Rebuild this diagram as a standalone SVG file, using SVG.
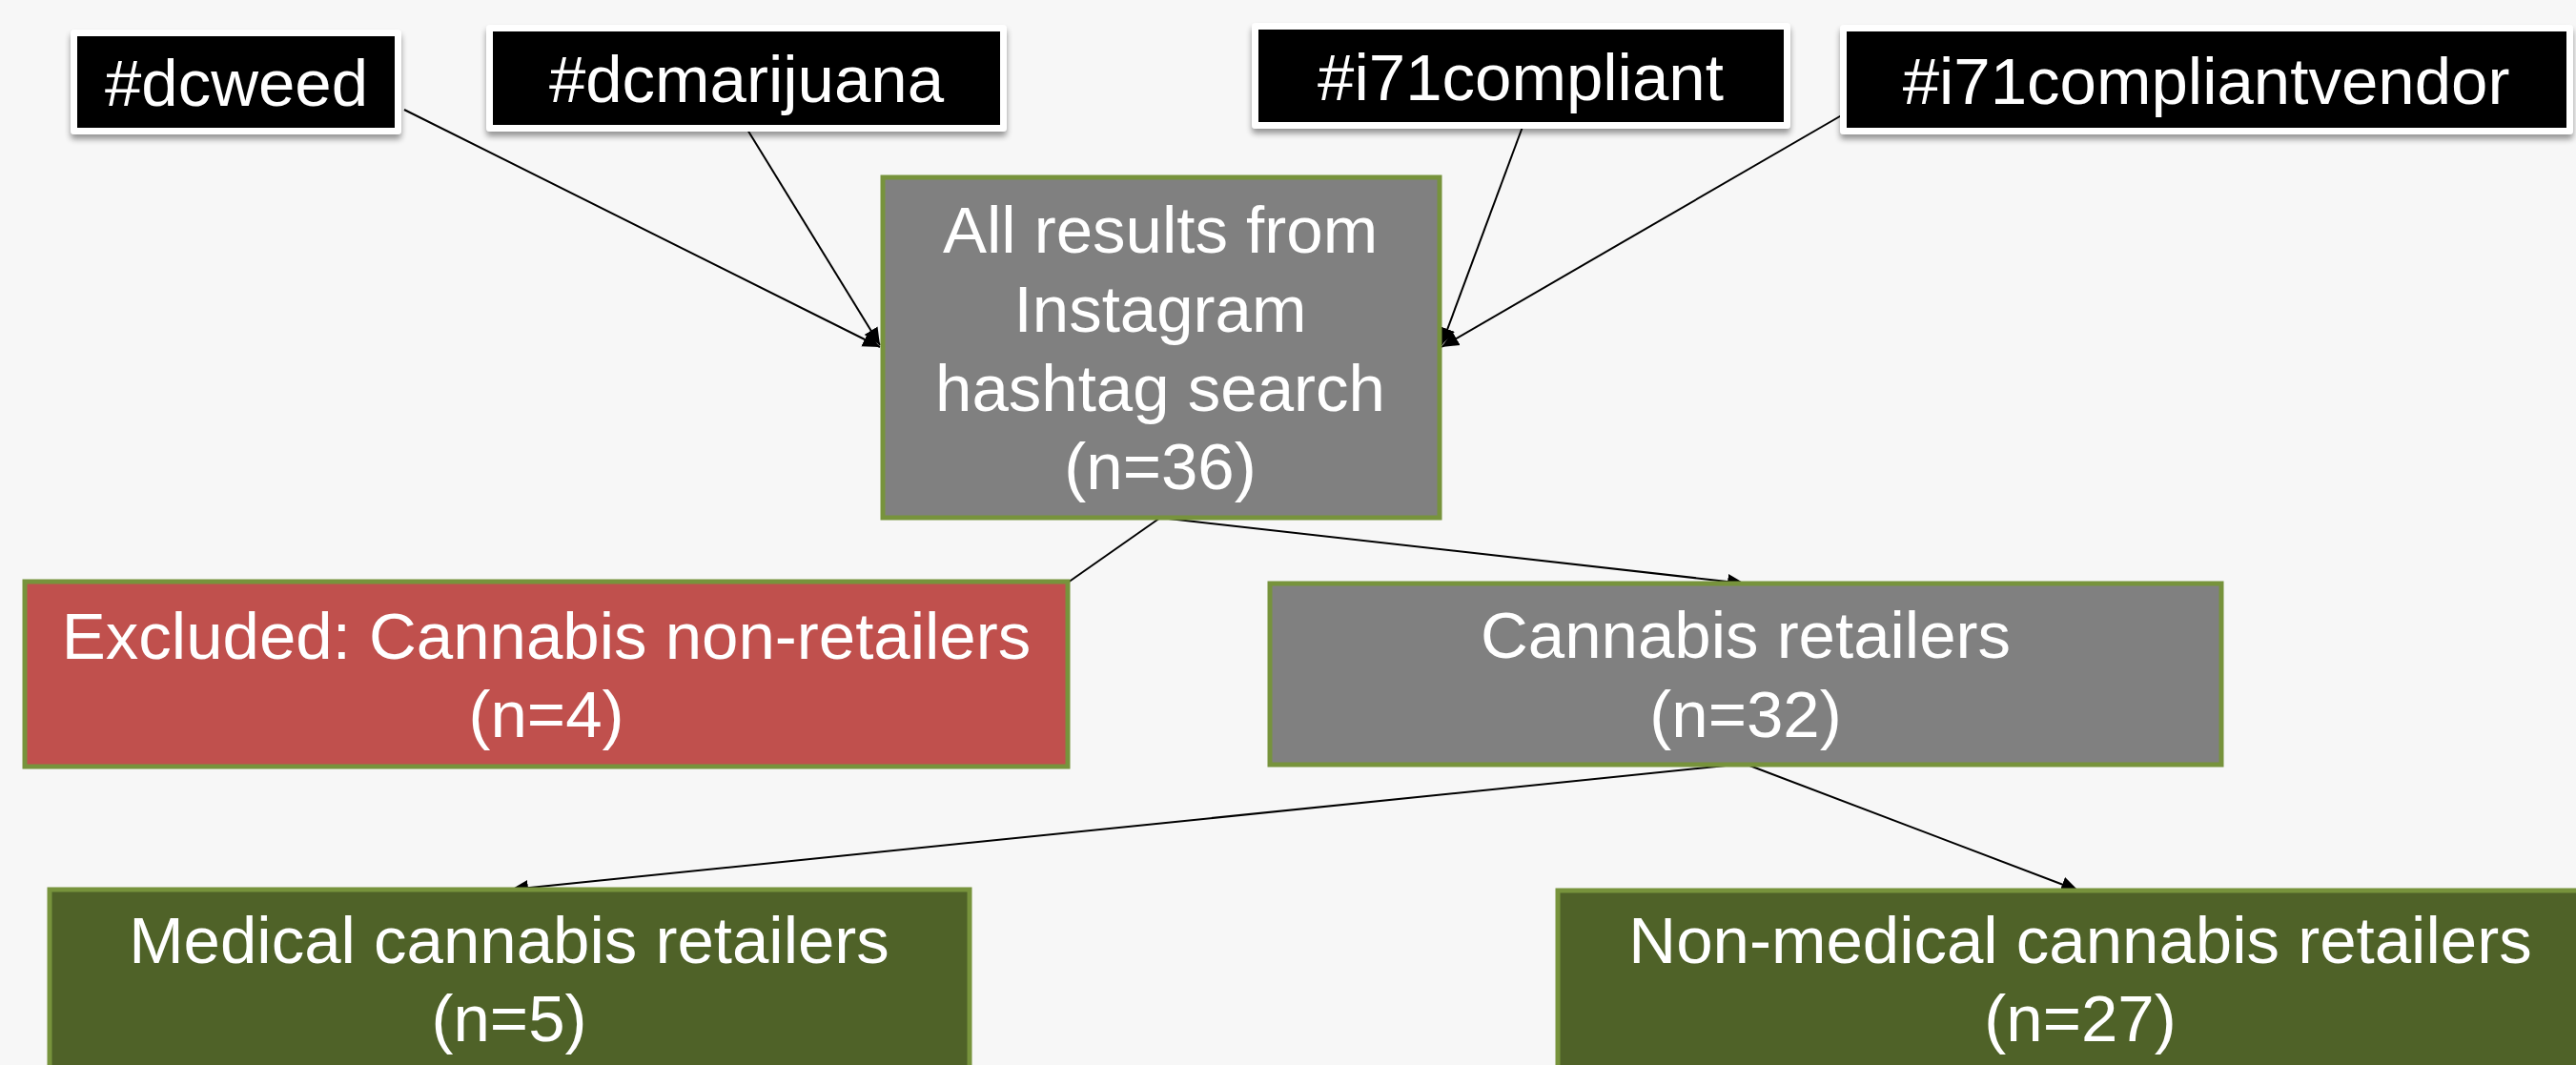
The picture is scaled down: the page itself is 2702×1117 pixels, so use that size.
<svg xmlns="http://www.w3.org/2000/svg" width="2702" height="1117" viewBox="0 0 2702 1117">
<defs>
<style>
.t{font-family:"Liberation Sans",Arial,sans-serif;font-size:69px;fill:#fff;text-anchor:middle}
.tagw{fill:#fff}
.tagb{fill:#000}
.box{stroke:#77933C;stroke-width:5}
.gray{fill:#808080}
.red{fill:#C0504D}
.dg{fill:#4F6228}
.ln{stroke:#000;stroke-width:2;fill:none}
</style>
<filter id="sh" x="-10%" y="-20%" width="120%" height="150%">
<feGaussianBlur in="SourceAlpha" stdDeviation="3"/>
<feOffset dx="0" dy="5" result="b"/>
<feComponentTransfer><feFuncA type="linear" slope="0.4"/></feComponentTransfer>
<feMerge><feMergeNode/><feMergeNode in="SourceGraphic"/></feMerge>
</filter>
<marker id="ah2" viewBox="0 0 10 10" refX="10" refY="5" markerWidth="9" markerHeight="9" markerUnits="strokeWidth" orient="auto">
<path d="M0,0.5 L10,5 L0,9.5 z" fill="#000"/>
</marker>
</defs>
<rect x="0" y="0" width="2702" height="1117" fill="#F7F7F7"/>

<g id="connectors">
<line class="ln" x1="424" y1="115" x2="923" y2="364" marker-end="url(#ah2)"/>
<line class="ln" x1="784" y1="136" x2="923" y2="362" marker-end="url(#ah2)"/>
<line class="ln" x1="1597" y1="133" x2="1512" y2="362" marker-end="url(#ah2)"/>
<line class="ln" x1="1942" y1="115" x2="1512" y2="364" marker-end="url(#ah2)"/>
<line class="ln" x1="1217" y1="543" x2="1120" y2="611"/>
<line class="ln" x1="1217" y1="543" x2="1830" y2="612" marker-end="url(#ah2)"/>
<line class="ln" x1="1830" y1="801" x2="536" y2="933" marker-end="url(#ah2)"/>
<line class="ln" x1="1830" y1="801" x2="2180" y2="934" marker-end="url(#ah2)"/>
</g>

<g id="tag-dcweed" filter="url(#sh)">
<rect class="tagw" x="74" y="31" width="347" height="110" rx="4"/>
<rect class="tagb" x="81" y="38" width="333" height="96"/>
<text class="t" x="248" y="111">#dcweed</text>
</g>
<g id="tag-dcmarijuana" filter="url(#sh)">
<rect class="tagw" x="510" y="26" width="546" height="112" rx="4"/>
<rect class="tagb" x="517" y="33" width="532" height="98"/>
<text class="t" x="783" y="107">#dcmarijuana</text>
</g>
<g id="tag-i71compliant" filter="url(#sh)">
<rect class="tagw" x="1313" y="24" width="565" height="111" rx="4"/>
<rect class="tagb" x="1320" y="31" width="551" height="97"/>
<text class="t" x="1595" y="105">#i71compliant</text>
</g>
<g id="tag-i71compliantvendor" filter="url(#sh)">
<rect class="tagw" x="1930" y="26" width="769" height="115" rx="4"/>
<rect class="tagb" x="1937" y="33" width="755" height="101"/>
<text class="t" x="2314" y="109">#i71compliantvendor</text>
</g>

<g id="node-all">
<rect class="box gray" x="926" y="186" width="584" height="357"/>
<text class="t" x="1217" y="265">All results from</text>
<text class="t" x="1217" y="348">Instagram</text>
<text class="t" x="1217" y="431">hashtag search</text>
<text class="t" x="1217" y="513">(n=36)</text>
</g>
<g id="node-excluded">
<rect class="box red" x="26" y="610" width="1094" height="194"/>
<text class="t" x="573" y="691">Excluded: Cannabis non-retailers</text>
<text class="t" x="573" y="773">(n=4)</text>
</g>
<g id="node-retailers">
<rect class="box gray" x="1332" y="612" width="998" height="190"/>
<text class="t" x="1831" y="690">Cannabis retailers</text>
<text class="t" x="1831" y="773">(n=32)</text>
</g>
<g id="node-medical">
<rect class="box dg" x="52" y="933" width="965" height="220"/>
<text class="t" x="534" y="1010">Medical cannabis retailers</text>
<text class="t" x="534" y="1092">(n=5)</text>
</g>
<g id="node-nonmedical">
<rect class="box dg" x="1634" y="934" width="1100" height="220"/>
<text class="t" x="2182" y="1010">Non-medical cannabis retailers</text>
<text class="t" x="2182" y="1092">(n=27)</text>
</g>
</svg>
